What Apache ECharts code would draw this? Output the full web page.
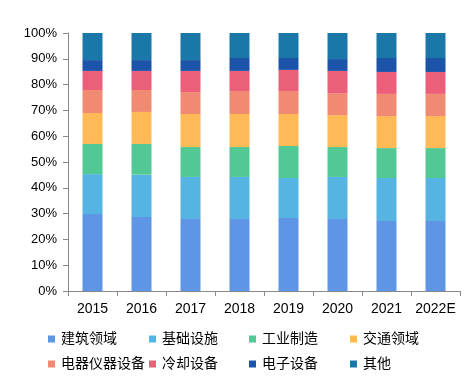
<!DOCTYPE html>
<html><head><meta charset="utf-8">
<script src="https://cdn.jsdelivr.net/npm/echarts@6/dist/echarts.min.js"></script>
<style>html,body{margin:0;padding:0;background:#fff}#c{width:473px;height:380px}</style>
</head><body><div id="c"></div>
<script>
const categories = ['2015','2016','2017','2018','2019','2020','2021','2022E'];
const seriesNames = ['建筑领域','基础设施','工业制造','交通领域','电器仪器设备','冷却设备','电子设备','其他'];
const building   = [29.8, 28.7, 27.9, 27.9, 28.3, 27.9, 27.1, 27.1];
const infra      = [15.5, 16.4, 16.3, 16.3, 15.5, 16.3, 16.7, 16.7];
const industry   = [11.7, 11.9, 11.6, 11.6, 12.4, 11.6, 11.6, 11.6];
const transport  = [12.0, 12.4, 12.8, 12.8, 12.4, 12.4, 12.4, 12.4];
const appliance  = [8.9, 8.5, 8.5, 8.9, 8.9, 8.5, 8.6, 8.6];
const cooling    = [7.4, 7.4, 8.2, 7.8, 8.2, 8.6, 8.5, 8.5];
const electronic = [4.2, 4.2, 4.2, 5.0, 4.6, 4.6, 5.4, 5.4];
const other      = [10.5, 10.5, 10.5, 9.7, 9.7, 10.1, 9.7, 9.7];
const yTicks = [0,10,20,30,40,50,60,70,80,90,100];

const values = [building, infra, industry, transport, appliance, cooling, electronic, other];
const colors = ['#5f95e5','#56b4e3','#52c994','#ffb957','#f08a72','#eb5f78','#1b54a8','#1a78a8'];
const font = '"Liberation Sans", Arial, "Noto Sans CJK SC", sans-serif';

const chart = echarts.init(document.getElementById('c'));
const legendCols = [43, 144, 244, 345];
const legends = legendCols.map((x, i) => ({
  orient: 'vertical', left: x, top: 327, itemWidth: 7, itemHeight: 7, itemGap: 11,
  icon: 'rect', data: [seriesNames[i], seriesNames[i+4]],
  textStyle: {fontSize: 14, color: '#000', fontFamily: font, padding: [0,0,0,1]}
}));
chart.setOption({
  animation: false,
  color: colors,
  grid: {left: 68, right: 13, top: 33, bottom: 89},
  legend: legends,
  xAxis: {
    type: 'category', data: categories,
    axisLine: {lineStyle: {color: '#888'}},
    axisTick: {show: true, length: 5, lineStyle: {color: '#888'}},
    axisLabel: {color: '#000', fontSize: 14, fontFamily: font, margin: 11, interval: 0}
  },
  yAxis: {
    type: 'value', min: yTicks[0], max: yTicks[yTicks.length-1], interval: 10,
    axisLine: {show: true, lineStyle: {color: '#888'}},
    axisTick: {show: true, length: 5, lineStyle: {color: '#888'}},
    splitLine: {show: false},
    axisLabel: {color: '#000', fontSize: 13, fontFamily: font, margin: 11, formatter: '{value}%'}
  },
  series: seriesNames.map((n, i) => ({
    name: n, type: 'bar', stack: 'total', barWidth: 20, data: values[i],
    itemStyle: {color: colors[i]}
  }))
});
</script></body></html>
